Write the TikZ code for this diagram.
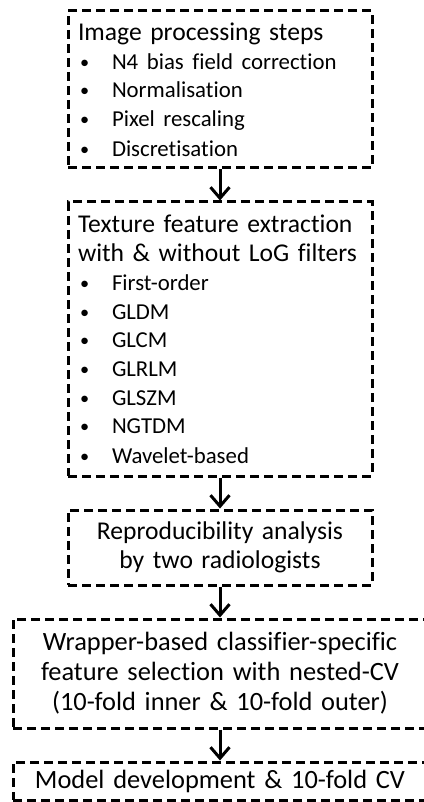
\documentclass[tikz,border=0pt]{standalone}
\usepackage{fontspec}
\setmainfont{Carlito}[Ligatures=NoCommon]
\usetikzlibrary{positioning, arrows.meta}
\newcommand{\itemfont}{\fontsize{22.8}{28.7}\selectfont}
\newcommand{\itm}{\makebox[34pt][l]{\hspace{2pt}\raisebox{1pt}{\scalebox{0.8}{\textbullet}}}}

\begin{document}
\begin{tikzpicture}[
    x=1pt, y=1pt,
    stepbox/.style={
        draw,
        rectangle,
        line width=3pt,
        dash pattern=on 9pt off 5pt,
        inner xsep=10pt,
        inner ysep=4pt,
        font=\fontsize{25.6}{29.5}\selectfont
    },
    widebox/.style={
        stepbox,
        text width=394pt,
        align=center,
        font=\fontsize{26.4}{30}\selectfont
    },
    flow/.style={
        -{Straight Barb[length=11pt, width=19pt]},
        line width=3pt
    },
    node distance=31pt
]
    \useasboundingbox (0,0) rectangle (423,-802);

    \node[
        stepbox,
        text width=284pt,
        align=left,   % list boxes
        minimum height=157pt
    ] (prep) at (220,-89.5) {
        Image processing steps\\
        \itemfont
        \itm N4 bias field correction\\
        \itm Normalisation\\
        \itm Pixel rescaling\\
        \itm Discretisation
    };
    \node[
        stepbox,
        text width=284pt,
        align=left,
        minimum height=274pt,
        below=of prep
    ] (feat) {
        Texture feature extraction\\
        with \& without LoG filters\\
        \itemfont
        \itm First-order\\
        \itm GLDM\\
        \itm GLCM\\
        \itm GLRLM\\
        \itm GLSZM\\
        \itm NGTDM\\
        \itm Wavelet-based
    };
    \node[
        stepbox,
        text width=284pt,
        align=center,
        minimum height=75pt,
        below=of feat
    ] (repro) {
        Reproducibility analysis\\
        by two radiologists
    };
    \node[
        widebox,
        minimum height=109pt,
        below=of repro
    ] (select) {
        Wrapper-based classifier-specific\\
        feature selection with nested-CV\\
        (10-fold inner \& 10-fold outer)
    };
    \node[
        widebox,
        minimum height=38pt,
        below=of select
    ] (model) {
        Model development \& 10-fold CV
    };

    \draw[flow] (prep) -- (feat);
    \draw[flow] (feat) -- (repro);
    \draw[flow] (repro) -- (select);
    \draw[flow] (select) -- (model);
\end{tikzpicture}
\end{document}
